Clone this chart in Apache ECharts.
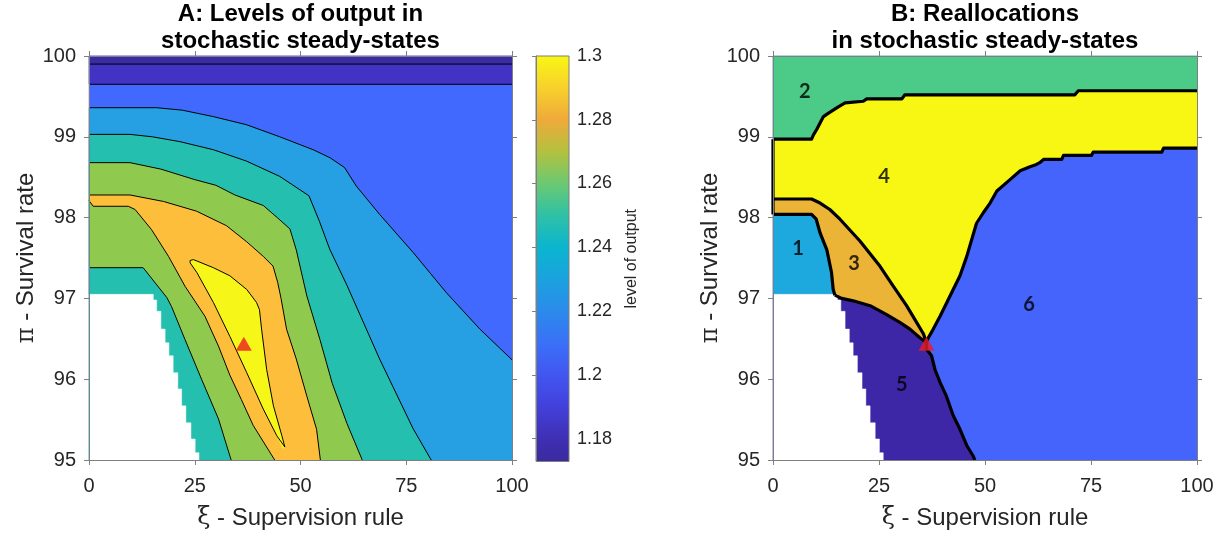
<!DOCTYPE html>
<html><head><meta charset="utf-8">
<script src="https://cdn.jsdelivr.net/npm/echarts@6/dist/echarts.min.js"></script>
<style>html,body{margin:0;padding:0;background:#fff}#c{width:1220px;height:535px}</style>
</head><body><div id="c"></div>
<script>
// ---------- axis ticks ----------
const xiTicks = [0, 25, 50, 75, 100];
const piTicks = [95, 96, 97, 98, 99, 100];
const cbTicks = [1.18, 1.2, 1.22, 1.24, 1.26, 1.28, 1.3];
const cbMin = 1.1728, cbMax = 1.3;
const cbStopValues = [1.1728, 1.18, 1.19, 1.2, 1.21, 1.22, 1.23, 1.24, 1.25, 1.26, 1.27, 1.28, 1.29, 1.3];

// ---------- Panel A: contour lines (xi, pi) ----------
const A_bandLines = [99.65, 99.9];
const A_lightblueTop = [[0,99.36],[16,99.36],[22,99.33],[29.4,99.25],[37.2,99.15],[45.1,99.0],[53,98.84],[57,98.74],[60.4,98.62],[63.2,98.39],[68.7,98.04],[76.6,97.57],[84.5,97.07],[92.4,96.62],[100,96.24]];
const A_tealTop = [[0,99.03],[9.7,99.03],[15,99.0],[21.5,98.94],[29.4,98.84],[37.2,98.70],[45.1,98.51],[52,98.27],[54.5,97.95],[56.9,97.61],[61,97.16],[68.7,96.25],[76.6,95.39],[80.9,95.0]];
const A_greenTop = [[0,98.68],[9.7,98.68],[17,98.60],[25,98.47],[30,98.40],[34.5,98.28],[41.2,98.15],[44.5,98.0],[47.5,97.86],[49,97.6],[51.5,97.03],[54.6,96.49],[57.5,95.95],[61,95.45],[64.6,95.0]];
const A_greenLow = [[0,97.38],[12.8,97.38],[18.4,97.01],[19.5,96.90],[22.7,96.49],[26.6,96.0],[30.6,95.51],[33.6,95.0]];
const A_orangeTop = [[0,98.28],[9.7,98.28],[17.6,98.2],[25.4,98.08],[32.5,97.9],[37.3,97.7],[41.2,97.52],[43.5,97.4],[44.6,97.2],[45.4,97.0],[46.7,96.62],[49,96.25],[51.5,95.79],[53.8,95.38],[54.7,95.0]];
const A_orangeLow = [[0,98.21],[1.0,98.14],[9.3,98.14],[10.9,98.10],[14.8,97.85],[18.8,97.52],[22.7,97.15],[27.4,96.78],[30.6,96.41],[33.3,96.05],[36,95.75],[38.8,95.43],[43.9,95.0]];
const A_yellow = [[23.9,97.47],[24.7,97.48],[29.4,97.38],[33.3,97.28],[37.3,97.11],[39.6,96.95],[40.3,96.86],[40.8,96.62],[42.0,96.12],[43.6,95.67],[45.6,95.30],[46.3,95.16],[45.9,95.14],[44.4,95.30],[41.2,95.63],[37.3,96.08],[33.3,96.53],[29.4,96.95],[25.5,97.32],[23.9,97.44],[23.9,97.47]];
// region without a solution (blank), same in both panels
const nanTop = 97.05;
const nanEdge = [[15.2,97.05],[15.2,96.98],[16.0,96.98],[16.0,96.84],[17.0,96.84],[17.0,96.62],[18.0,96.62],[18.0,96.45],[18.9,96.45],[18.9,96.29],[19.9,96.29],[19.9,96.08],[21.0,96.08],[21.0,95.88],[21.9,95.88],[21.9,95.67],[22.9,95.67],[22.9,95.46],[24.1,95.46],[24.1,95.26],[25.1,95.26],[25.1,95.09],[26.0,95.09],[26.0,95]];
const optimumA = [36.6, 96.44];

// ---------- Panel B: region borders ----------
const B_2_4 = [[0,98.97],[9.1,98.97],[9.5,99.02],[10.3,99.09],[11.1,99.17],[11.9,99.25],[13.0,99.29],[14.2,99.33],[15.4,99.37],[17.0,99.42],[21.3,99.44],[22.1,99.47],[30.4,99.47],[31.1,99.52],[71.2,99.52],[72.0,99.57],[100,99.57]];
const B_4_6 = [[100,98.86],[92.1,98.86],[91.7,98.81],[75.5,98.81],[75.1,98.77],[68.5,98.77],[68.1,98.72],[63.8,98.72],[62.9,98.68],[61.8,98.65],[60.6,98.63],[58.3,98.58],[55.9,98.47],[52.8,98.33],[51.2,98.18],[49.6,98.06],[48.0,97.93],[45.7,97.52],[44.1,97.28],[42.5,97.11],[41.0,96.95],[39.4,96.78],[37.8,96.62],[36.6,96.51],[36.2,96.45]];
const B_4_3 = [[0,98.23],[9.1,98.23],[11.1,98.18],[13.4,98.10],[15.8,97.98],[20.5,97.71],[25.2,97.40],[28.4,97.15],[31.5,96.91],[33.9,96.70],[35.5,96.56],[36.2,96.45]];
const B_1_3 = [[0,98.04],[9.1,98.04],[10.2,97.98],[11.1,97.81],[12.7,97.60],[13.8,97.32],[14.2,97.11],[14.6,97.04]];
const B_3_5 = [[14.6,97.04],[16.2,97.0],[18.9,96.97],[22.9,96.91],[26.8,96.80],[30.0,96.70],[32.3,96.62],[34.7,96.51],[35.8,96.47],[36.2,96.45]];
const B_5_6 = [[36.2,96.45],[36.2,96.37],[37.4,96.29],[38.2,96.12],[39.4,95.96],[40.9,95.79],[42.5,95.55],[44.1,95.38],[45.7,95.18],[47.2,95.05],[47.6,95.0]];
const B_leftEdge = [[0,98.97],[0,98.04]];
const B_regionTop1 = 97.04;
const optimumB = [36.2, 96.44];
const regionNames = ['1','2','3','4','5','6'];
const regionXi = [5.9, 7.5, 19.1, 26.2, 30.4, 60.4];
const regionPi = [97.62, 99.56, 97.43, 98.51, 95.94, 96.93];

// ---------- styles ----------
const colA = {band1:'#3B2CA3', band2:'#4233C4', blue:'#4169FE', lightblue:'#26A0E2', teal:'#25BFB0', green:'#8FCA4E', orange:'#FDBE3C', yellow:'#F6F718'};
const colB = {r1:'#1DA9DD', r2:'#4BCB87', r3:'#ECB437', r4:'#F8F713', r5:'#3D27A7', r6:'#4464FB'};
const cbColors = ['#3B2A9E','#3F2FB3','#4340DB','#4256F0','#3A70F8','#2C8AEB','#1AA2DE','#0BB5CF','#2EC1A6','#6CC971','#B4C13E','#EFAA3A','#F8D12B','#F8F713'];
const FONT = 'Liberation Sans';
const TXT = '#262626';
const AXC = '#7f7f7f';

// ---------- build polygons ----------
const rev = a => a.slice().reverse();
const box = (x0,x1,y0,y1) => [[x0,y0],[x1,y0],[x1,y1],[x0,y1]];
const xMin = xiTicks[0], xMax = xiTicks[xiTicks.length-1];
const yMin = piTicks[0], yMax = piTicks[piTicks.length-1];
const nanPoly = [[xMin,nanTop]].concat(nanEdge, [[xMin,yMin]]);

const fillsA = [
  {c: colA.blue, p: box(xMin,xMax,yMin,yMax)},
  {c: colA.lightblue, p: A_lightblueTop.concat([[xMax,yMin],[xMin,yMin]])},
  {c: colA.teal, p: A_tealTop.concat([[xMin,yMin]])},
  {c: colA.green, p: A_greenTop.concat(rev(A_greenLow))},
  {c: colA.orange, p: A_orangeTop.concat(rev(A_orangeLow))},
  {c: colA.yellow, p: A_yellow},
  {c: '#ffffff', p: nanPoly},
  {c: colA.band2, p: box(xMin,xMax,A_bandLines[0],A_bandLines[1])},
  {c: colA.band1, p: box(xMin,xMax,A_bandLines[1],yMax)}
];
const linesA = [A_lightblueTop, A_tealTop, A_greenTop, A_greenLow, A_orangeTop, A_orangeLow, A_yellow,
  [[xMin,A_bandLines[0]],[xMax,A_bandLines[0]]], [[xMin,A_bandLines[1]],[xMax,A_bandLines[1]]]];

const fillsB = [
  {c: colB.r6, p: box(xMin,xMax,yMin,yMax)},
  {c: colB.r2, p: [[xMin,yMax],[xMax,yMax]].concat(rev(B_2_4))},
  {c: colB.r4, p: B_2_4.concat(B_4_6, rev(B_4_3))},
  {c: colB.r3, p: B_4_3.concat(rev(B_3_5), rev(B_1_3))},
  {c: colB.r1, p: B_1_3.concat([[xMin,B_regionTop1]])},
  {c: colB.r5, p: B_3_5.concat(B_5_6, [[xMin,yMin],[xMin,B_regionTop1]])},
  {c: '#ffffff', p: nanPoly}
];
const linesB = [B_2_4, B_4_6, B_4_3, B_1_3, B_3_5, B_5_6, B_leftEdge];

// ---------- layout ----------
const G = [
  {left: 89, top: 56, width: 423, height: 405.5},
  {left: 773, top: 56, width: 424, height: 405.5},
  {left: 536, top: 56, width: 33, height: 405.5}
];
const nameStyle = {fontSize:24, color:TXT, fontFamily:FONT, rich:{g:{fontFamily:'DejaVu Serif', fontSize:24, color:TXT}}};

function xAxes(gi) {
  const base = {type:'value', gridIndex:gi, min:xMin, max:xMax, interval:25, z:10,
    axisLine:{show:true, onZero:false, lineStyle:{color:AXC, width:1}},
    axisTick:{show:true, length:5, lineStyle:{color:AXC}},
    splitLine:{show:false}};
  return [
    Object.assign({}, base, {position:'bottom',
      axisLabel:{show:true, fontSize:20, color:TXT, fontFamily:FONT, margin:16},
      name:'{g|ξ} - Supervision rule', nameLocation:'middle', nameGap:46, nameTextStyle:nameStyle}),
    Object.assign({}, base, {position:'top', axisLabel:{show:false}})
  ];
}
function yAxes(gi) {
  const base = {type:'value', gridIndex:gi, min:yMin, max:yMax, interval:1, z:10,
    axisLine:{show:true, onZero:false, lineStyle:{color:AXC, width:1}},
    axisTick:{show:true, length:5, lineStyle:{color:AXC}},
    splitLine:{show:false}};
  return [
    Object.assign({}, base, {position:'left',
      axisLabel:{show:true, fontSize:20, color:TXT, fontFamily:FONT, margin:13},
      name:'{g|π} - Survival rate', nameLocation:'middle', nameGap:37, nameRotate:90, nameTextStyle:nameStyle}),
    Object.assign({}, base, {position:'right', axisLabel:{show:false}})
  ];
}

function fillSeries(fills, xi, yi) {
  return {
    type:'custom', xAxisIndex:xi, yAxisIndex:yi, silent:true, z:2,
    data: fills.map((f,i)=>i),
    renderItem: function(params, api) {
      const f = fills[params.dataIndex];
      return {type:'polygon', z2: params.dataIndex,
        shape:{points: f.p.map(pt => api.coord(pt))},
        style:{fill: f.c, stroke: f.c, lineWidth: 0.5}};
    }
  };
}
function lineSeries(lines, xi, yi, w) {
  return lines.map(l => ({
    type:'line', xAxisIndex:xi, yAxisIndex:yi, data:l, symbol:'none', silent:true, z:4,
    clip:false, lineStyle:{color:'#000', width:w, join:'round', cap:'butt'}
  }));
}

const cbStops = cbStopValues.map((v,i)=>({offset:(v-cbMin)/(cbMax-cbMin), color:cbColors[i]}));
const titleStyle = {fontSize:24, fontWeight:'bold', color:'#000', fontFamily:FONT, lineHeight:27};

const option = {
  animation:false,
  backgroundColor:'#fff',
  title:[
    {text:'A: Levels of output in\nstochastic steady-states', left:300.5, top:1, padding:0, textAlign:'center', textStyle:titleStyle},
    {text:'B: Reallocations\nin stochastic steady-states', left:985, top:1, padding:0, textAlign:'center', textStyle:titleStyle}
  ],
  grid: G,
  xAxis: xAxes(0).concat(xAxes(1), [{type:'value', gridIndex:2, min:0, max:1, show:false}]),
  yAxis: yAxes(0).concat(yAxes(1), [{
    type:'value', gridIndex:2, min:cbMin, max:cbMax, position:'right', z:10,
    axisLine:{show:true, lineStyle:{color:AXC}},
    axisTick:{show:true, length:4, inside:true, customValues:cbTicks, lineStyle:{color:AXC}},
    axisLabel:{show:true, fontSize:18, color:TXT, fontFamily:FONT, margin:8, customValues:cbTicks},
    splitLine:{show:false},
    name:'level of output', nameLocation:'middle', nameGap:55, nameRotate:90,
    nameTextStyle:{fontSize:16, color:TXT, fontFamily:FONT}
  }]),
  series: [
    fillSeries(fillsA, 0, 0),
    fillSeries(fillsB, 2, 2),
    ...lineSeries(linesA, 0, 0, 1),
    ...lineSeries(linesB, 2, 2, 3.2),
    {type:'scatter', xAxisIndex:0, yAxisIndex:0, data:[optimumA], symbol:'triangle', symbolSize:[16,14], z:6, silent:true,
      itemStyle:{color:'#EC1C24'}},
    {type:'scatter', xAxisIndex:2, yAxisIndex:2, data:[optimumB], symbol:'triangle', symbolSize:[16,14], z:6, silent:true,
      itemStyle:{color:'#EC1C24'}},
    {type:'scatter', xAxisIndex:2, yAxisIndex:2, z:7, silent:true, symbolSize:1,
      itemStyle:{color:'rgba(0,0,0,0)'},
      data: regionNames.map((n,i)=>({name:n, value:[regionXi[i], regionPi[i]]})),
      label:{show:true, position:'inside', formatter: p => p.name, fontSize:20, fontWeight:'bold', color:'#000', fontFamily:'Lato'}},
    {type:'custom', xAxisIndex:4, yAxisIndex:4, silent:true, z:3, data:[0],
      renderItem: function(params, api) {
        const tl = api.coord([0, cbMax]);
        const br = api.coord([1, cbMin]);
        return {type:'rect', shape:{x:tl[0], y:tl[1], width:br[0]-tl[0], height:br[1]-tl[1]},
          style:{fill: new echarts.graphic.LinearGradient(0,1,0,0,cbStops), stroke:AXC, lineWidth:1}};
      }}
  ]
};
const chart = echarts.init(document.getElementById('c'), null, {renderer:'canvas'});
chart.setOption(option);
</script></body></html>
